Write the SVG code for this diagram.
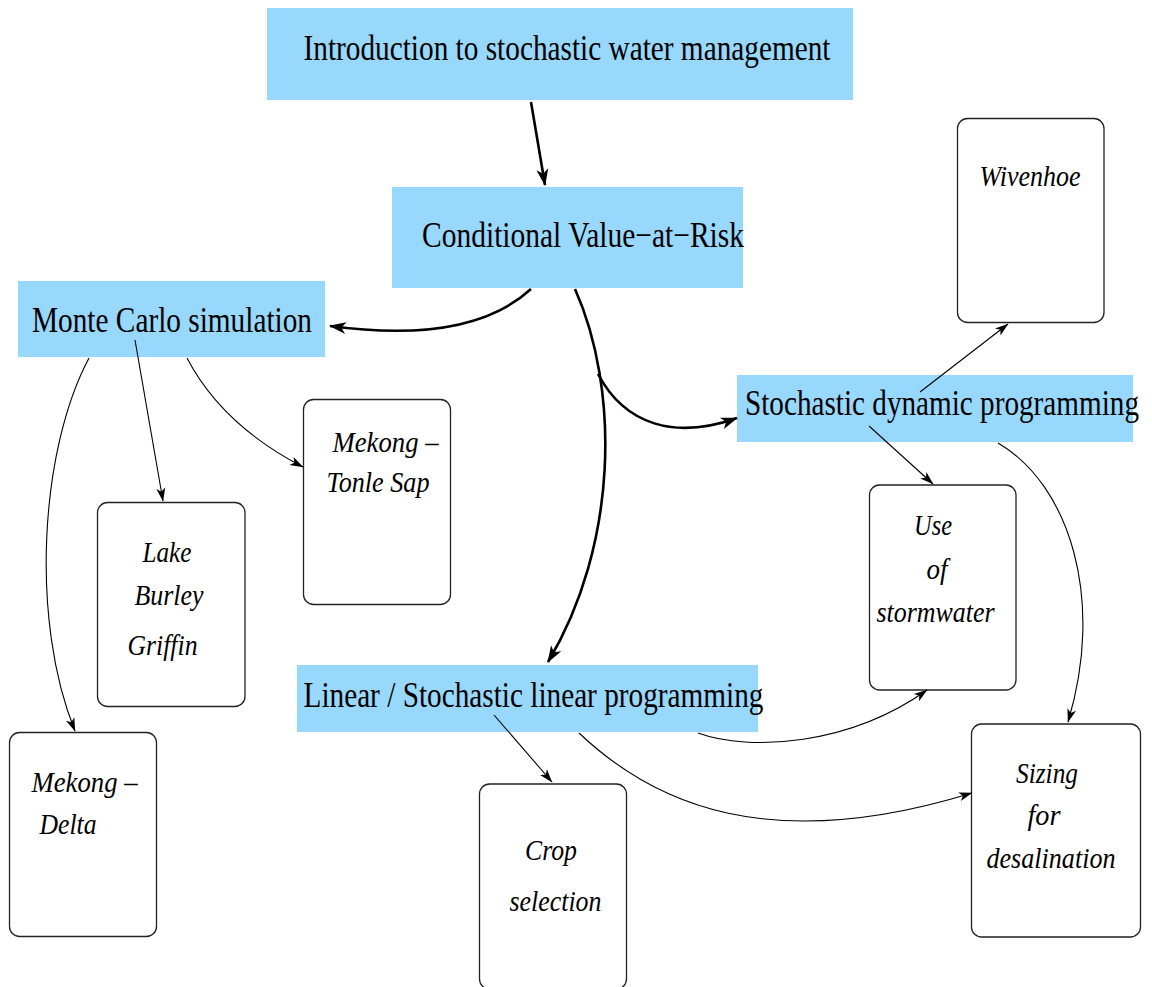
<svg xmlns="http://www.w3.org/2000/svg" width="1152" height="987" viewBox="0 0 1152 987">
<style>
.topic{fill:#98d8fc;stroke:none}
.case{fill:#ffffff;stroke:#222;stroke-width:1.3}
.t{font-family:"Liberation Serif","Times New Roman",serif;font-size:35px;fill:#000}
.i{font-family:"Liberation Serif","Times New Roman",serif;font-size:30px;font-style:italic;fill:#000}
.thick{fill:none;stroke:#000;stroke-width:2.6}
.thin{fill:none;stroke:#000;stroke-width:1.1}
</style>
<defs>
<marker id="ah" markerUnits="userSpaceOnUse" orient="auto" refX="0" refY="0" markerWidth="20" markerHeight="14" viewBox="-18 -7 20 14" overflow="visible">
<path d="M1,0 L-16,-6 L-11.5,0 L-16,6 Z" fill="#000"/>
</marker>
<marker id="as" markerUnits="userSpaceOnUse" orient="auto" refX="0" refY="0" markerWidth="16" markerHeight="10" viewBox="-15 -5 16 10" overflow="visible">
<path d="M0.5,0 L-13,-4.5 L-9.5,0 L-13,4.5 Z" fill="#000"/>
</marker>
</defs>

<g id="intro">
<rect class="topic" x="267" y="8" width="586" height="92"/>
<text class="t" x="303.5" y="59.5" textLength="527" lengthAdjust="spacingAndGlyphs">Introduction to stochastic water management</text>
</g>
<g id="cvar">
<rect class="topic" x="392" y="187" width="351" height="101"/>
<text class="t" x="422" y="246.5" textLength="322" lengthAdjust="spacingAndGlyphs">Conditional Value−at−Risk</text>
</g>
<g id="montecarlo">
<rect class="topic" x="18" y="281" width="307" height="76"/>
<text class="t" x="32" y="331.5" textLength="280" lengthAdjust="spacingAndGlyphs">Monte Carlo simulation</text>
</g>
<g id="sdp">
<rect class="topic" x="737" y="375" width="396" height="67"/>
<text class="t" x="745" y="415" textLength="394" lengthAdjust="spacingAndGlyphs">Stochastic dynamic programming</text>
</g>
<g id="linear">
<rect class="topic" x="297" y="665" width="461" height="67"/>
<text class="t" x="303.5" y="706.5" textLength="460" lengthAdjust="spacingAndGlyphs">Linear / Stochastic linear programming</text>
</g>

<g id="wivenhoe">
<rect class="case" x="957.5" y="118.5" width="146.5" height="204" rx="10" ry="10"/>
<text class="i" x="979.5" y="186" textLength="101" lengthAdjust="spacingAndGlyphs">Wivenhoe</text>
</g>
<g id="tonlesap">
<rect class="case" x="303.5" y="399.5" width="147" height="205" rx="10" ry="10"/>
<text class="i" x="332.5" y="451.5" textLength="106" lengthAdjust="spacingAndGlyphs">Mekong –</text>
<text class="i" x="326.5" y="491.5" textLength="103" lengthAdjust="spacingAndGlyphs">Tonle Sap</text>
</g>
<g id="lakeburleygriffin">
<rect class="case" x="97.5" y="502.5" width="147.5" height="204" rx="10" ry="10"/>
<text class="i" x="142.5" y="561.5" textLength="49" lengthAdjust="spacingAndGlyphs">Lake</text>
<text class="i" x="134.5" y="605" textLength="69" lengthAdjust="spacingAndGlyphs">Burley</text>
<text class="i" x="127.5" y="655" textLength="70" lengthAdjust="spacingAndGlyphs">Griffin</text>
</g>
<g id="mekongdelta">
<rect class="case" x="9.5" y="732.5" width="147" height="204" rx="10" ry="10"/>
<text class="i" x="31.5" y="791.5" textLength="106" lengthAdjust="spacingAndGlyphs">Mekong –</text>
<text class="i" x="39.5" y="833.5" textLength="57" lengthAdjust="spacingAndGlyphs">Delta</text>
</g>
<g id="cropselection">
<rect class="case" x="479.5" y="784" width="147" height="205" rx="10" ry="10"/>
<text class="i" x="525" y="860" textLength="52" lengthAdjust="spacingAndGlyphs">Crop</text>
<text class="i" x="509.5" y="910.5" textLength="92" lengthAdjust="spacingAndGlyphs">selection</text>
</g>
<g id="stormwater">
<rect class="case" x="869.5" y="485" width="146.5" height="205" rx="10" ry="10"/>
<text class="i" x="914" y="535" textLength="38" lengthAdjust="spacingAndGlyphs">Use</text>
<text class="i" x="926.5" y="578.5" textLength="21" lengthAdjust="spacingAndGlyphs">of</text>
<text class="i" x="876.5" y="621.5" textLength="118" lengthAdjust="spacingAndGlyphs">stormwater</text>
</g>
<g id="desalination">
<rect class="case" x="971.5" y="724" width="169" height="213" rx="10" ry="10"/>
<text class="i" x="1016" y="782.5" textLength="62" lengthAdjust="spacingAndGlyphs">Sizing</text>
<text class="i" x="1027.5" y="825" textLength="33" lengthAdjust="spacingAndGlyphs">for</text>
<text class="i" x="986.5" y="867.5" textLength="129" lengthAdjust="spacingAndGlyphs">desalination</text>
</g>

<g id="connectors">
<path class="thick" d="M531,102 L545,185" marker-end="url(#ah)"/>
<path class="thick" d="M531,289 Q470,345 330,326" marker-end="url(#ah)"/>
<path class="thick" d="M575,289 C620,390 618,545 548,662" marker-end="url(#ah)"/>
<path class="thick" d="M598,374 C625,425 675,440 737,418" marker-end="url(#ah)"/>
<path class="thin" d="M135,340 L163,501" marker-end="url(#as)"/>
<path class="thin" d="M187,358 Q222,425 303,467" marker-end="url(#as)"/>
<path class="thin" d="M89,358 C40,450 30,620 75,731" marker-end="url(#as)"/>
<path class="thin" d="M920,392 L1008,324" marker-end="url(#as)"/>
<path class="thin" d="M869,426 L933,484" marker-end="url(#as)"/>
<path class="thin" d="M998,443 C1070,485 1105,600 1068,722" marker-end="url(#as)"/>
<path class="thin" d="M698,733 C750,752 850,745 927,690" marker-end="url(#as)"/>
<path class="thin" d="M579,733 C655,805 770,855 972,793" marker-end="url(#as)"/>
<path class="thin" d="M494,715 L552,782" marker-end="url(#as)"/>
</g>
</svg>
